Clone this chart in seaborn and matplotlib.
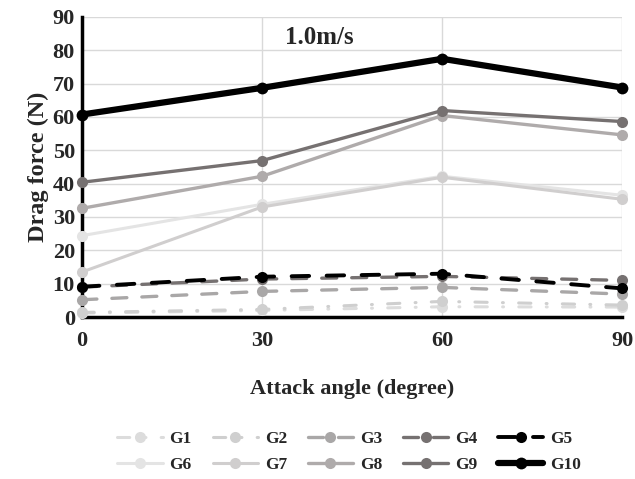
import matplotlib

matplotlib.use("Agg")
import matplotlib.pyplot as plt  # noqa: E402
import pandas as pd  # noqa: E402
import seaborn as sns  # noqa: E402

# drag force (N) per group at 1.0 m/s
angles = [0, 30, 60, 90]
groups = ["G1", "G2", "G3", "G4", "G5", "G6", "G7", "G8", "G9", "G10"]
g1 = [1.2, 2.0, 3.1, 3.0]
g2 = [1.4, 2.3, 4.7, 3.6]
g3 = [5.2, 7.7, 8.9, 6.9]
g4 = [9.0, 11.4, 12.2, 11.0]
g5 = [9.1, 12.1, 13.0, 8.6]
g6 = [24.4, 33.8, 42.2, 36.5]
g7 = [13.5, 33.0, 41.9, 35.3]
g8 = [32.6, 42.2, 60.4, 54.6]
g9 = [40.4, 46.9, 61.9, 58.6]
g10 = [60.7, 68.7, 77.4, 68.8]

colors = ["#dcdcdc", "#cfcfcf", "#a9a7a7", "#767171", "#000000",
          "#e4e4e4", "#d0cece", "#afabab", "#767171", "#000000"]

df = pd.DataFrame({
    "angle": angles * len(groups),
    "force": g1 + g2 + g3 + g4 + g5 + g6 + g7 + g8 + g9 + g10,
    "group": [g for g in groups for _ in angles],
})

dashdot = (0, (4, 5, 0.3, 5))
dashed = (0, (4.5, 4.5))
styles = {
    "G1": dict(ls=dashdot, lw=2.2), "G2": dict(ls=dashdot, lw=2.2),
    "G3": dict(ls=dashed, lw=2.4), "G4": dict(ls=dashed, lw=2.4),
    "G5": dict(ls=dashed, lw=2.8),
    "G6": dict(ls="-", lw=2.2), "G7": dict(ls="-", lw=2.2),
    "G8": dict(ls="-", lw=2.4), "G9": dict(ls="-", lw=2.4),
    "G10": dict(ls="-", lw=4.5),
}

sns.set_style("white")
plt.rcParams["font.family"] = ["Liberation Serif", "DejaVu Serif"]
plt.rcParams["font.weight"] = "bold"

fig, ax = plt.subplots(figsize=(6.35, 4.79), dpi=100)
fig.subplots_adjust(left=0.129, right=0.98, top=0.965, bottom=0.338)

handles = {}
for name, color in zip(groups, colors):
    st = styles[name]
    sns.lineplot(
        data=df[df["group"] == name], x="angle", y="force", ax=ax,
        color=color, linestyle=st["ls"], linewidth=st["lw"],
        marker="o", markersize=8 if name != "G10" else 8.5,
        markeredgewidth=0, dash_capstyle="round", clip_on=False, zorder=3,
    )
    handles[name] = ax.lines[-1]

ax.set(xlim=(0, 90), ylim=(0, 90))
ax.set_xticks(angles)
ax.set_yticks(range(0, 91, 10))
ax.grid(True, color="#d9d9d9", lw=1)
ax.tick_params(length=0, labelsize=16)
ax.tick_params(axis="x", pad=10)
ax.tick_params(axis="y", pad=5)
for lab in ax.get_xticklabels() + ax.get_yticklabels():
    lab.set_fontweight("bold")
for side in ["top", "right"]:
    ax.spines[side].set_visible(False)
for side in ["left", "bottom"]:
    ax.spines[side].set_color("black")
    ax.spines[side].set_linewidth(2.5)
    ax.spines[side].set_zorder(2)

ax.set_xlabel("Attack angle (degree)", fontsize=16, fontweight="bold", labelpad=20)
ax.set_ylabel("Drag force (N)", fontsize=17.5, fontweight="bold", labelpad=3)
ax.text(0.44, 0.93, "1.0m/s", transform=ax.transAxes, ha="center", va="center",
        fontsize=18, fontweight="bold")

# legend fills column-major; reorder so rows read G1..G5 / G6..G10
order = [g for pair in zip(groups[:5], groups[5:]) for g in pair]
fig.legend(
    [handles[g] for g in order], order, loc="center", bbox_to_anchor=(0.55, 0.057),
    ncol=5, frameon=False, fontsize=12.5, handlelength=2.6, handletextpad=0.4,
    columnspacing=1.2, labelspacing=0.55,
)

fig.savefig("out.png", dpi=100)
plt.close(fig)
